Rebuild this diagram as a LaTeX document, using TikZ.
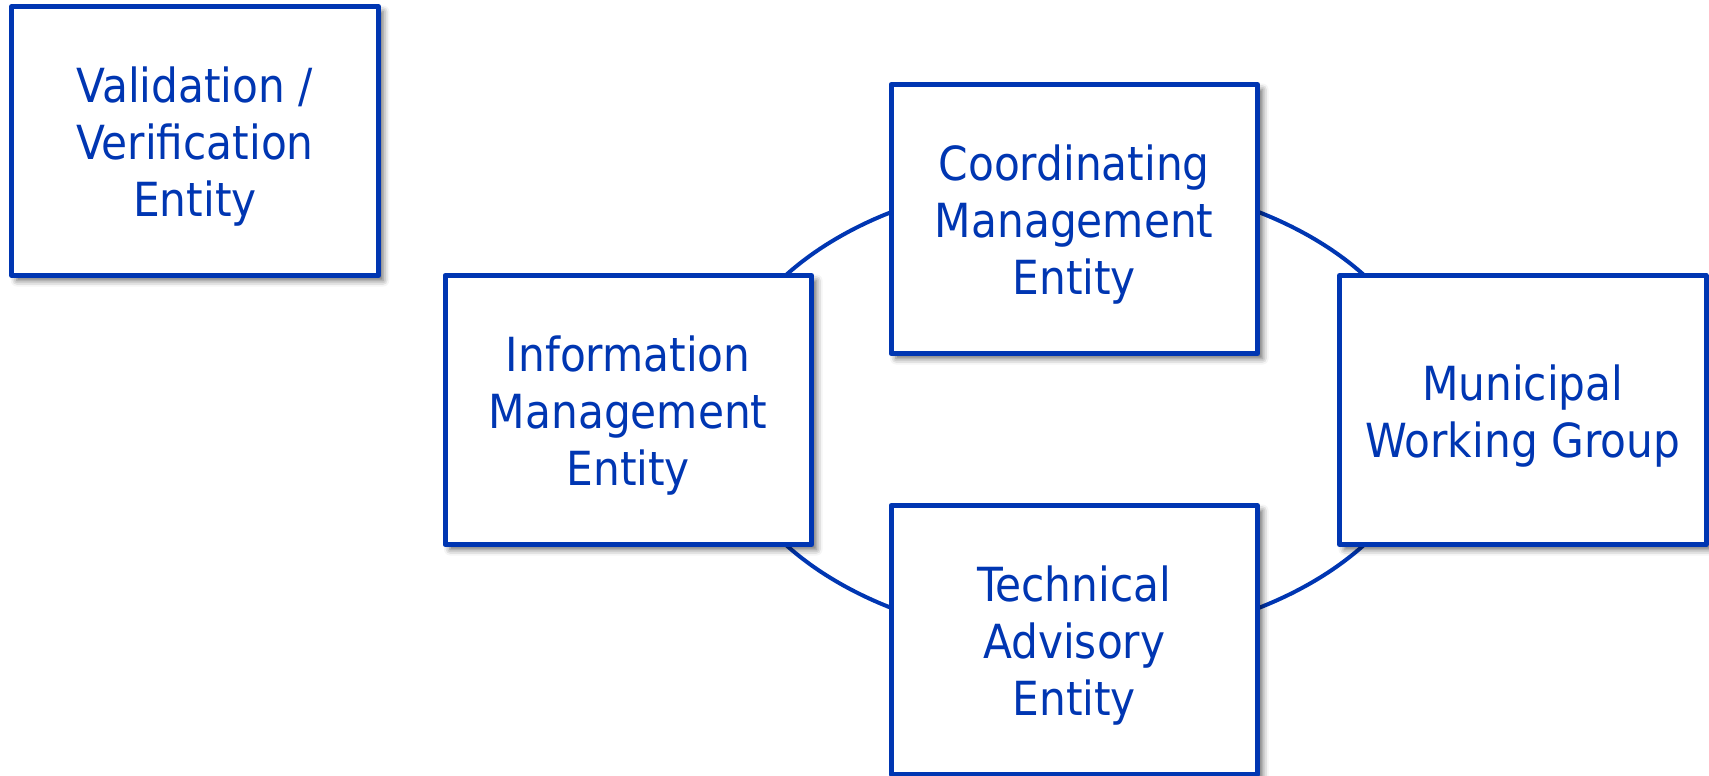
\documentclass[tikz,border=0pt]{standalone}
\usepackage{fontspec}
\setmainfont{DejaVu Sans Condensed}
\usetikzlibrary{shadows.blur}
\definecolor{entblue}{RGB}{0,54,178}
% extra room above the first line, pushes the text down a little
\newcommand\lift{\rule{0pt}{47pt}}

\begin{document}
\begin{tikzpicture}[x=1pt,y=-1pt,
    entity/.style={draw=entblue, line width=5pt, line join=round, fill=white,
        text=entblue, minimum width=366.5pt, minimum height=269pt,
        inner sep=0pt, align=center, font=\fontsize{47}{57}\selectfont,
        blur shadow={shadow xshift=5pt, shadow yshift=-5pt,
            shadow blur radius=6pt, shadow opacity=60}},
    ring/.style={draw=entblue, line width=4pt}]
    \useasboundingbox (0,0) rectangle (1709,776);
    % ring behind the four linked entities
    \draw[ring] (1075,410) ellipse [x radius=356, y radius=231];
    \node[entity] (valid) at (195,141) {\lift Validation /\\Verification\\Entity};
    \node[entity] (coord) at (1074.25,219) {\lift Coordinating\\Management\\Entity};
    \node[entity] (info) at (628.25,410) {\lift Information\\Management\\Entity};
    \node[entity] (munic) at (1522.75,410) {\lift Municipal\\Working Group};
    \node[entity] (tech) at (1074.25,640) {\lift Technical\\Advisory\\Entity};
\end{tikzpicture}
\end{document}
